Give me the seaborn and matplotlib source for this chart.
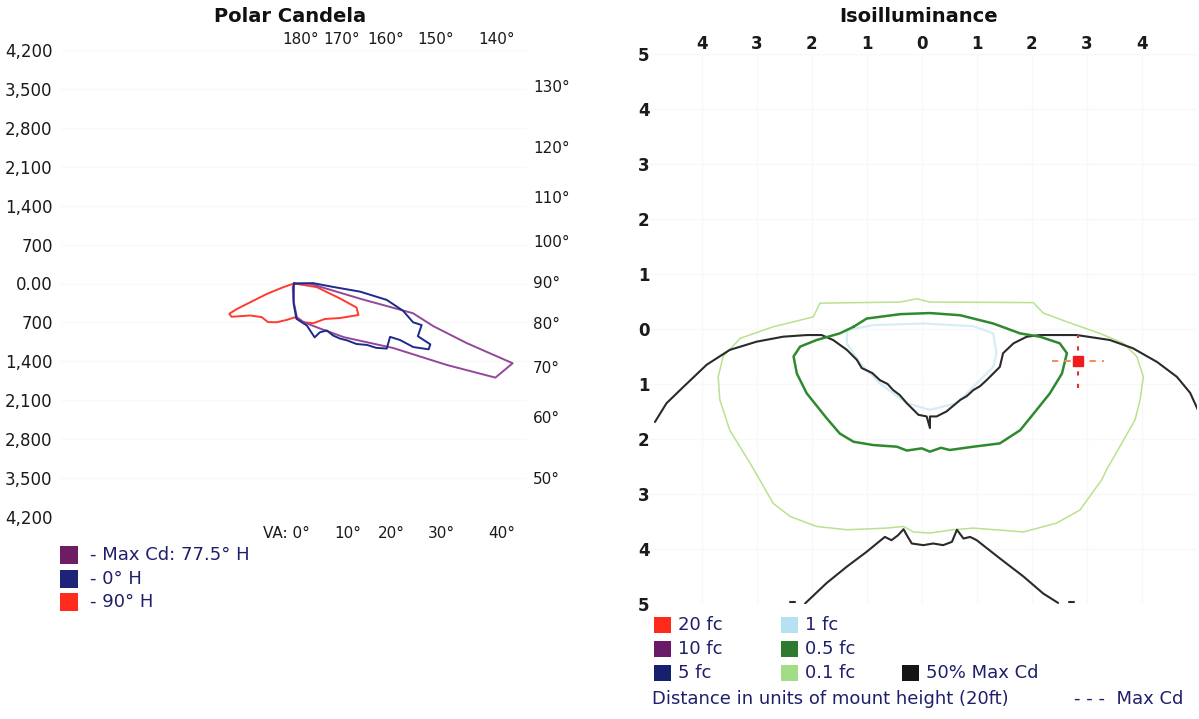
import numpy as np
import matplotlib
matplotlib.use('Agg')
import matplotlib.pyplot as plt
import seaborn as sns
from matplotlib.patches import Rectangle


W, H = 1199, 719
NAVY = '#1f1f6b'

# polar candela: vertical angle from nadir (deg, negative = opposite side), candela
red_ang = [-90, -71, -69, -66, -65, -62, -54, -44, -34, -24, -11, 2, 14, 26, 41, 53, 64, 69, 72, 81, 92]
red_cd = [0, 200, 525, 1127, 1286, 1275, 979, 840, 837, 763, 666, 607, 717, 795, 846, 1033, 1293, 1207, 873, 414, 0]

blue_ang = [-90, -3, -1, 4, 17, 19, 21, 28, 35, 37, 40, 43, 46, 50, 52, 55, 61, 62, 62,
            64, 66, 67, 72, 72, 76, 80, 83, 85, 91, 95]
blue_cd = [0, 60, 365, 637, 790, 894, 1038, 994, 1031, 1173, 1295, 1397, 1566, 1720, 1879, 2041,
           1980, 2166, 2434, 2701, 2690, 2425, 2420, 2257, 2026, 1697, 1198, 710, 347, 0]

purple_ang = [-90, -20, -2, 5, 14, 30, 43, 57, 62, 65, 70, 71, 73, 76, 77, 83, 89, 95]
purple_cd = [0, 70, 306, 609, 717, 935, 1321, 2129, 3122, 4006, 4194, 3293, 2628, 2210, 1248, 471, 288, 0]

cd_ticks = [4200, 3500, 2800, 2100, 1400, 700, 0, -700, -1400, -2100, -2800, -3500, -4200]
cd_tick_labels = ['4,200', '3,500', '2,800', '2,100', '1,400', '700', '0.00',
                  '700', '1,400', '2,100', '2,800', '3,500', '4,200']
top_angles = [180, 170, 160, 150, 140]
right_angles = [130, 120, 110, 100, 90, 80, 70, 60, 50]
bottom_angles = [0, 10, 20, 30, 40]

polar_labels = ['- Max Cd: 77.5° H', '- 0° H', '- 90° H']
polar_colors = ['#6e1d63', '#1d2379', '#ff2b1c']

# isoilluminance contours, units of mount height
lgreen_x = [-3.30, -2.70, -1.97, -1.85, -0.39, -0.09, 0.15, 2.03, 2.21, 2.64, 3.24, 3.67, 3.91, 4.03,
            3.97, 3.88, 3.67, 3.36, 3.27, 3.18, 2.88, 2.45, 1.85, 0.94, 0.57, 0.15, -0.15, -0.33,
            -0.64, -1.36, -1.91, -2.39, -2.70, -2.94, -3.12, -3.49, -3.67, -3.70, -3.61, -3.30]
lgreen_y = [-0.17, 0.04, 0.22, 0.47, 0.49, 0.55, 0.49, 0.48, 0.29, 0.13, -0.08, -0.26, -0.50, -0.87,
            -1.29, -1.65, -2.02, -2.56, -2.75, -2.87, -3.29, -3.53, -3.69, -3.62, -3.65, -3.71, -3.69,
            -3.59, -3.62, -3.65, -3.59, -3.41, -3.17, -2.75, -2.44, -1.84, -1.29, -0.87, -0.50, -0.17]

dgreen_x = [-1.24, -1.00, -0.39, 0.15, 0.70, 1.30, 1.79, 2.15, 2.51, 2.64, 2.55, 2.33, 2.09, 1.79,
            1.42, 0.94, 0.51, 0.35, 0.15, 0.00, -0.27, -0.45, -0.88, -1.24, -1.49, -1.73, -2.09,
            -2.27, -2.33, -2.21, -1.91, -1.49, -1.24]
dgreen_y = [0.04, 0.19, 0.27, 0.29, 0.25, 0.10, -0.08, -0.14, -0.26, -0.44, -0.81, -1.17, -1.47,
            -1.84, -2.08, -2.14, -2.20, -2.16, -2.23, -2.17, -2.21, -2.14, -2.11, -2.05, -1.90,
            -1.62, -1.17, -0.81, -0.50, -0.32, -0.20, -0.08, 0.04]

lblue_x = [-1.36, -0.88, 0.03, 0.94, 1.30, 1.36, 1.30, 0.94, 0.64, 0.15, -0.27, -0.76, -1.12, -1.36, -1.36]
lblue_y = [-0.02, 0.07, 0.10, 0.05, -0.08, -0.44, -0.69, -1.05, -1.35, -1.47, -1.35, -0.99, -0.62, -0.26, -0.02]

black_top_x = [-4.85, -4.64, -4.33, -3.91, -3.49, -3.00, -2.52, -2.09, -1.82, -1.61, -1.36, -1.18,
               -1.09, -0.90, -0.76, -0.62, -0.52, -0.40, -0.27, -0.06, 0.09, 0.15, 0.15, 0.27, 0.45,
               0.70, 0.82, 0.94, 1.06, 1.18, 1.42, 1.48, 1.67, 1.91, 2.15, 2.82, 3.42, 3.84, 4.28,
               4.64, 4.88, 5.04]
black_top_y = [-1.69, -1.35, -1.05, -0.65, -0.38, -0.23, -0.14, -0.11, -0.11, -0.20, -0.38, -0.56,
               -0.71, -0.80, -0.93, -1.00, -1.11, -1.20, -1.35, -1.56, -1.59, -1.80, -1.59, -1.59,
               -1.50, -1.29, -1.22, -1.11, -1.04, -0.93, -0.69, -0.44, -0.26, -0.14, -0.11, -0.11,
               -0.20, -0.35, -0.60, -0.87, -1.16, -1.51]

black_low_x = [-2.12, -1.73, -1.36, -1.00, -0.67, -0.55, -0.43, -0.33, -0.27, -0.18, 0.03, 0.21,
               0.39, 0.55, 0.64, 0.76, 0.88, 1.00, 1.42, 1.85, 2.21, 2.48]
black_low_y = [-4.99, -4.62, -4.32, -4.05, -3.78, -3.84, -3.75, -3.64, -3.75, -3.90, -3.93, -3.90,
               -3.93, -3.87, -3.65, -3.81, -3.78, -3.84, -4.17, -4.50, -4.81, -4.98]
black_bits = [([-2.40, -2.30], [-4.96, -4.96]), ([2.67, 2.76], [-4.96, -4.96])]

max_cd_x, max_cd_y = 2.84, -0.59

iso_ticks_x = [-4, -3, -2, -1, 0, 1, 2, 3, 4]
iso_ticks_y = [-5, -4, -3, -2, -1, 0, 1, 2, 3, 4, 5]

fc_labels = ['20 fc', '10 fc', '5 fc', '1 fc', '0.5 fc', '0.1 fc', '50% Max Cd']
fc_colors = ['#ff2a1a', '#6a1a66', '#15206e', '#b5e2f2', '#2e7a2e', '#a2dc84', '#151515']


def px(x, y):
    return x / W, 1 - y / H


def polar_xy(ang, cd):
    a = np.radians(ang)
    cd = np.asarray(cd, dtype=float)
    return cd * np.sin(a), -cd * np.cos(a)


sns.set_style('white')
plt.rcParams['font.family'] = ['DejaVu Sans']

fig = plt.figure(figsize=(W / 100, H / 100), dpi=100)

# ---------------- Polar Candela ----------------
ax1 = fig.add_axes([61 / W, 1 - 517 / H, 466 / W, 467 / H])
ax1.set_xlim(-4200, 4200)
ax1.set_ylim(-4200, 4200)
for ang, cd, col in [(red_ang, red_cd, '#ff3b2f'), (purple_ang, purple_cd, '#94479a'),
                     (blue_ang, blue_cd, '#1c2a8c')]:
    x, y = polar_xy(ang, cd)
    sns.lineplot(x=x, y=y, sort=False, estimator=None, ax=ax1, color=col, linewidth=1.4)
ax1.set_xticks([])
ax1.set_yticks(cd_ticks)
ax1.set_yticklabels(cd_tick_labels)
ax1.tick_params(axis='y', length=0, pad=6, labelsize=12, labelcolor='#1a1a1a')
ax1.grid(axis='y', color='#f9f9f9', linewidth=1)
for s in ax1.spines.values():
    s.set_visible(False)

R = 4200
k = 4200 / 233.5  # candela per pixel
for a in top_angles:
    ax1.text(R * np.tan(np.radians(180 - a)) + 7 * k, R + 10 * k, f'{a}°', ha='center',
             va='center', fontsize=11, color='#1a1a1a', clip_on=False)
for a in right_angles:
    ax1.text(R + 6 * k, -R / np.tan(np.radians(a)), f'{a}°', ha='left', va='center',
             fontsize=11, color='#1a1a1a', clip_on=False)
for a in bottom_angles:
    if a == 0:
        ax1.text(16 * k, -R - 16 * k, 'VA: 0°', ha='right', va='center', fontsize=11,
                 color='#1a1a1a', clip_on=False)
    else:
        ax1.text(R * np.tan(np.radians(a)) - 1 * k, -R - 16 * k, f'{a}°', ha='left',
                 va='center', fontsize=11, color='#1a1a1a', clip_on=False)

fig.text(*px(290, 17), 'Polar Candela', ha='center', va='center', fontsize=14,
         fontweight='bold', color='#111111')

for i, (lab, col) in enumerate(zip(polar_labels, polar_colors)):
    yc = 555 + i * 23.5
    fig.add_artist(Rectangle(px(60, yc + 9), 18 / W, 18 / H, transform=fig.transFigure,
                             facecolor=col, edgecolor='none'))
    fig.text(*px(90, yc), lab, ha='left', va='center', fontsize=13, color=NAVY)

# ---------------- Isoilluminance ----------------
ax2 = fig.add_axes([646.7 / W, 1 - 604 / H, 550 / W, 550 / H])
ax2.set_xlim(-5, 5)
ax2.set_ylim(-5, 5)
sns.lineplot(x=lblue_x, y=lblue_y, sort=False, estimator=None, ax=ax2, color='#d6edf5', linewidth=1.6)
sns.lineplot(x=lgreen_x, y=lgreen_y, sort=False, estimator=None, ax=ax2, color='#b9e28e', linewidth=1.1)
sns.lineplot(x=black_top_x, y=black_top_y, sort=False, estimator=None, ax=ax2, color='#2a2a2a', linewidth=1.5)
sns.lineplot(x=black_low_x, y=black_low_y, sort=False, estimator=None, ax=ax2, color='#2a2a2a', linewidth=1.5)
for bx, by in black_bits:
    sns.lineplot(x=bx, y=by, sort=False, estimator=None, ax=ax2, color='#2a2a2a', linewidth=1.5)
sns.lineplot(x=dgreen_x, y=dgreen_y, sort=False, estimator=None, ax=ax2, color='#2f8a2f', linewidth=1.8)

arm = 0.48
ax2.plot([max_cd_x - arm, max_cd_x + arm], [max_cd_y, max_cd_y], color='#f0905a',
         linewidth=1.5, linestyle=(0, (3, 3)))
ax2.plot([max_cd_x, max_cd_x], [max_cd_y - arm, max_cd_y + arm], color='#e83030',
         linewidth=1.5, linestyle=(0, (2, 4)))
ax2.plot([max_cd_x], [max_cd_y], marker='s', markersize=7, color='#ee1c1c')

ax2.xaxis.tick_top()
ax2.set_xticks(iso_ticks_x)
ax2.set_xticklabels([str(abs(v)) for v in iso_ticks_x])
ax2.set_yticks(iso_ticks_y)
ax2.set_yticklabels([str(abs(v)) for v in iso_ticks_y])
ax2.tick_params(axis='x', length=0, pad=1, labelsize=12, labelcolor='#1a1a1a')
ax2.tick_params(axis='y', length=0, pad=-2, labelsize=12, labelcolor='#1a1a1a')
for lab in ax2.get_xticklabels() + ax2.get_yticklabels():
    lab.set_fontweight('bold')
ax2.grid(True, color='#f8f8f8', linewidth=1)
for s in ax2.spines.values():
    s.set_visible(False)

fig.text(*px(919, 17), 'Isoilluminance', ha='center', va='center', fontsize=14,
         fontweight='bold', color='#111111')

leg_cols = [654, 654, 654, 781, 781, 781, 902]
leg_rows = [625, 649, 673, 625, 649, 673, 673]
for lab, col, lx, ly in zip(fc_labels, fc_colors, leg_cols, leg_rows):
    fig.add_artist(Rectangle(px(lx, ly + 8), 17 / W, 16 / H, transform=fig.transFigure,
                             facecolor=col, edgecolor='none'))
    fig.text(*px(lx + 24, ly), lab, ha='left', va='center', fontsize=13, color=NAVY)

fig.text(*px(652, 699), 'Distance in units of mount height (20ft)', ha='left', va='center',
         fontsize=13, color=NAVY)
fig.text(*px(1074, 699), '- - -  Max Cd', ha='left', va='center', fontsize=13, color=NAVY)

fig.savefig('out.png', dpi=100)
